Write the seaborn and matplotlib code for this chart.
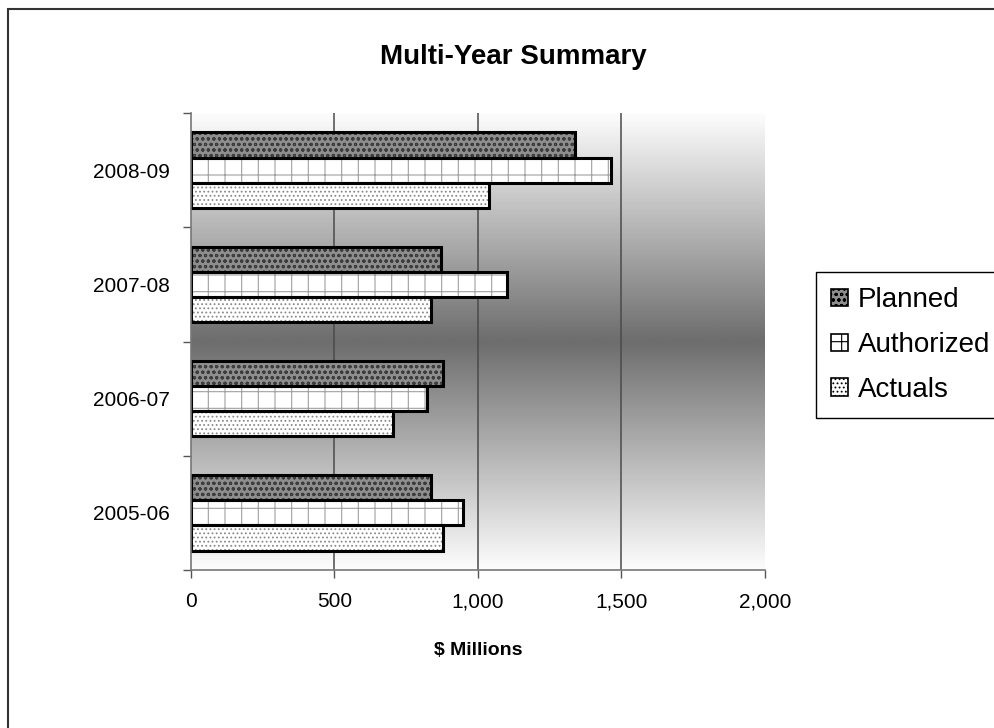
import numpy as np
import pandas as pd
import matplotlib
matplotlib.use("Agg")
import matplotlib.pyplot as plt
from matplotlib.patches import Rectangle
from matplotlib.ticker import FuncFormatter
import seaborn as sns

# ---- data ----
years = ["2008-09", "2007-08", "2006-07", "2005-06"]
series = ["Planned", "Authorized", "Actuals"]
planned = [1337, 870, 877, 836]
authorized = [1462, 1100, 822, 947]
actuals = [1038, 836, 703, 877]
x_ticks = [0, 500, 1000, 1500, 2000]

df = pd.DataFrame({
    "Year": years * 3,
    "Series": [s for s in series for _ in years],
    "Value": planned + authorized + actuals,
})

sns.set_theme(style="white")
plt.rcParams["font.family"] = ["Liberation Sans", "DejaVu Sans"]
plt.rcParams["hatch.linewidth"] = 0.8
plt.rcParams["text.color"] = "black"
plt.rcParams["axes.labelcolor"] = "black"
plt.rcParams["xtick.color"] = "black"
plt.rcParams["ytick.color"] = "black"

fig = plt.figure(figsize=(9.95, 7.28), dpi=100)
ax = fig.add_axes([191 / 995, 1 - 570 / 728, (765 - 191) / 995, (570 - 113) / 728])

sns.barplot(data=df, y="Year", x="Value", hue="Series", order=years,
            hue_order=series, orient="h", width=0.66, ax=ax, legend=False,
            saturation=1)

styles = {
    "Planned": dict(face="#8e8e8e", hatch="ooo", hcol="#3c3c3c"),
    "Authorized": dict(face="#ffffff", hatch="+", hcol="#a0a0a0"),
    "Actuals": dict(face="#ffffff", hatch="....", hcol="#8a8a8a"),
}

for name, cont in zip(series, ax.containers):
    st = styles[name]
    for p in cont.patches:
        p.set_facecolor(st["face"])
        p.set_hatch(st["hatch"])
        p.set_edgecolor(st["hcol"])
        p.set_linewidth(0)
        p.set_zorder(3)
        ax.add_patch(Rectangle((p.get_x(), p.get_y()), p.get_width(), p.get_height(),
                               fill=False, edgecolor="black", linewidth=2.2, zorder=4))

# gradient background
grad = np.concatenate([np.linspace(0.99, 0.43, 100), np.linspace(0.43, 0.99, 100)])[:, None]
ax.imshow(grad, extent=[0, 1, 0, 1], transform=ax.transAxes, aspect="auto",
          cmap="gray", vmin=0, vmax=1, zorder=0, interpolation="bilinear")

ax.set_xlim(0, 2000)
ax.set_ylim(3.5, -0.5)

for v in x_ticks[1:-1]:
    ax.axvline(v, color="#4a4a4a", linewidth=1.1, zorder=1)

ax.set_xticks(x_ticks)
ax.xaxis.set_major_formatter(FuncFormatter(lambda v, p: f"{int(v):,}"))
ax.tick_params(axis="x", direction="out", length=6, width=1, color="#555555",
               labelsize=15, pad=10, bottom=True, labelcolor="black")
ax.set_yticks(range(len(years)))
ax.set_yticklabels(years)
ax.set_yticks([-0.5, 0.5, 1.5, 2.5, 3.5], minor=True)
ax.tick_params(axis="y", which="major", length=0, labelsize=15, pad=15,
               labelcolor="black")
ax.tick_params(axis="y", which="minor", direction="out", length=6, width=1,
               color="#555555", left=True)

for s in ["top", "right"]:
    ax.spines[s].set_visible(False)
for s in ["left", "bottom"]:
    ax.spines[s].set_color("#777777")
    ax.spines[s].set_linewidth(1.2)
    ax.spines[s].set_zorder(5)

ax.set_ylabel("")
ax.set_xlabel("$ Millions", fontsize=14, fontweight="bold", labelpad=22,
              color="black")

fig.text(513 / 995, 1 - 57 / 728, "Multi-Year Summary", ha="center", va="center",
         fontsize=20, fontweight="bold", color="black")

# legend
handles = [Rectangle((0, 0), 1, 1, facecolor=styles[n]["face"], hatch=styles[n]["hatch"],
                     edgecolor="black", linewidth=1.2) for n in series]
leg = fig.legend(handles, series, loc="upper left",
                 bbox_to_anchor=(816 / 995, 1 - 272 / 728), fontsize=20,
                 frameon=True, fancybox=False, edgecolor="black", framealpha=1,
                 handlelength=0.6, handleheight=0.6, handletextpad=0.35,
                 labelspacing=0.68, borderpad=0.55, borderaxespad=0,
                 labelcolor="black")
leg.get_frame().set_linewidth(1.0)

# outer chart border
fig.patches.append(Rectangle((8 / 995, -0.05), 1.1, 1 - 9 / 728 + 0.05,
                             transform=fig.transFigure, fill=False,
                             edgecolor="#333333", linewidth=1.5))

fig.savefig("out.png", dpi=100)
